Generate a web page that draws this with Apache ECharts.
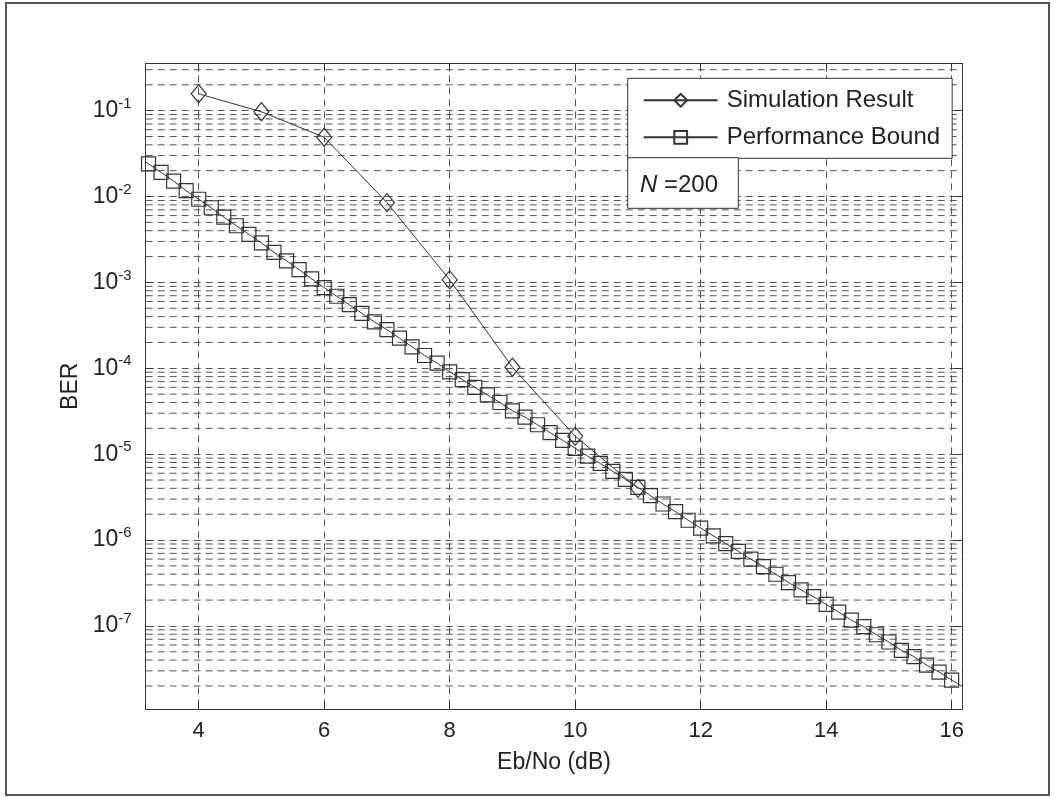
<!DOCTYPE html>
<html>
<head>
<meta charset="utf-8">
<script src="https://cdn.jsdelivr.net/npm/echarts/dist/echarts.min.js"></script>
<style>
html,body{margin:0;padding:0;background:#fff;}
#chart{width:1054px;height:797px;}
</style>
</head>
<body>
<div id="chart"></div>
<script>
// ---- data ----
const simX = [4, 5, 6, 7, 8, 9, 10, 11];
const simBER = [0.157, 0.097, 0.049, 8.5e-3, 1.07e-3, 1.03e-4, 1.62e-5, 4.0e-6];

const boundX = [3.155,
  3.2, 3.4, 3.6, 3.8, 4.0, 4.2, 4.4, 4.6, 4.8, 5.0,
  5.2, 5.4, 5.6, 5.8, 6.0, 6.2, 6.4, 6.6, 6.8, 7.0,
  7.2, 7.4, 7.6, 7.8, 8.0, 8.2, 8.4, 8.6, 8.8, 9.0,
  9.2, 9.4, 9.6, 9.8, 10.0, 10.2, 10.4, 10.6, 10.8, 11.0,
  11.2, 11.4, 11.6, 11.8, 12.0, 12.2, 12.4, 12.6, 12.8, 13.0,
  13.2, 13.4, 13.6, 13.8, 14.0, 14.2, 14.4, 14.6, 14.8, 15.0,
  15.2, 15.4, 15.6, 15.8, 16.0,
  16.17];
const boundBER = [2.53e-2,
  2.40e-2, 1.91e-2, 1.51e-2, 1.17e-2, 9.3e-3, 7.4e-3, 5.75e-3, 4.57e-3, 3.63e-3, 2.88e-3,
  2.24e-3, 1.78e-3, 1.41e-3, 1.10e-3, 8.7e-4, 6.9e-4, 5.5e-4, 4.37e-4, 3.47e-4, 2.82e-4,
  2.24e-4, 1.78e-4, 1.41e-4, 1.15e-4, 9.1e-5, 7.4e-5, 6.0e-5, 4.9e-5, 4.0e-5, 3.2e-5,
  2.7e-5, 2.2e-5, 1.78e-5, 1.45e-5, 1.17e-5, 9.5e-6, 7.8e-6, 6.3e-6, 5.1e-6, 4.1e-6,
  3.3e-6, 2.63e-6, 2.14e-6, 1.70e-6, 1.38e-6, 1.12e-6, 9.1e-7, 7.4e-7, 6.0e-7, 4.9e-7,
  4.0e-7, 3.2e-7, 2.63e-7, 2.19e-7, 1.78e-7, 1.45e-7, 1.17e-7, 9.8e-8, 7.9e-8, 6.5e-8,
  5.2e-8, 4.4e-8, 3.5e-8, 2.9e-8, 2.34e-8,
  1.97e-8];
// marker-less end points of the bound line (line reaches the axis edges)
const boundNoMarker = [3.155, 16.17];

const xTickValues = [4, 6, 8, 10, 12, 14, 16];
const xMin = 3.155, xMax = 16.17;
const yMin = 1.07e-8, yMax = 0.356;
const seriesNames = ['Simulation Result', 'Performance Bound'];
const annotation = 'N';
const annotationRest = ' =200';
const xName = 'Eb/No (dB)';
const yName = 'BER';

// ---- build ----
const FONT = '"Liberation Sans", Arial, Helvetica, sans-serif';
const INK = '#333';
const GRID = '#555';

const simData = simX.map((x, i) => [x, simBER[i]]);
const boundData = boundX.map((x, i) => {
  const item = { value: [x, boundBER[i]] };
  if (boundNoMarker.indexOf(x) >= 0) item.symbol = 'none';
  return item;
});

// minor grid lines at k*10^e, drawn as dashed line series across the x range
const minorValues = [];
for (let e = -9; e <= 0; e++) {
  for (let k = 2; k <= 9; k++) {
    const v = k * Math.pow(10, e);
    if (v > yMin && v < yMax) minorValues.push(v);
  }
}
const minorSeries = minorValues.map(v => ({
  type: 'line', silent: true, symbol: 'none',
  xAxisIndex: 0, yAxisIndex: 0,
  data: [[xMin, v], [xMax, v]],
  lineStyle: { color: GRID, type: [7, 5], width: 1 },
  emphasis: { disabled: true },
  tooltip: { show: false },
  z: 1
}));

function yLabel(v) {
  const lg = Math.log10(v);
  const e = Math.round(lg);
  if (Math.abs(lg - e) > 1e-6) return '';
  return '{b|10}{s|' + e + '}';
}
function xLabel(v) {
  return xTickValues.indexOf(Math.round(v * 1000) / 1000) >= 0 ? String(Math.round(v)) : '';
}

const chart = echarts.init(document.getElementById('chart'), null, { renderer: 'canvas' });
const option = {
  animation: false,
  backgroundColor: '#fff',
  textStyle: { fontFamily: FONT },
  grid: { left: 145.7, right: 91.7, top: 63.3, bottom: 87.7, containLabel: false },
  legend: {
    left: 627.7, top: 78.3,
    orient: 'vertical',
    backgroundColor: '#fff',
    borderColor: INK, borderWidth: 1, borderRadius: 0,
    padding: [10, 12, 9, 15],
    itemWidth: 74, itemHeight: 16, itemGap: 13,
    textStyle: { fontSize: 24, color: '#222', fontFamily: FONT, lineHeight: 24, padding: [0, 0, 0, 4] },
    data: seriesNames,
    z: 20
  },
  xAxis: [{
    type: 'value', min: xMin, max: xMax, splitNumber: 6,
    name: xName, nameLocation: 'middle', nameGap: 42,
    nameTextStyle: { fontSize: 23, color: '#222', fontFamily: FONT },
    axisLine: { show: true, onZero: false, lineStyle: { color: INK, width: 1 } },
    axisTick: { show: true, inside: true, length: 8, lineStyle: { color: INK } },
    axisLabel: { formatter: xLabel, fontSize: 22, color: '#222', margin: 11, fontFamily: FONT, showMinLabel: false, showMaxLabel: false },
    splitLine: { show: true, lineStyle: { color: GRID, type: [7, 5], width: 1 } }
  }, {
    type: 'value', min: xMin, max: xMax, splitNumber: 6, position: 'top',
    axisLine: { show: true, onZero: false, lineStyle: { color: INK, width: 1 } },
    axisTick: { show: true, inside: true, length: 8, lineStyle: { color: INK } },
    axisLabel: { show: false },
    splitLine: { show: false }
  }],
  yAxis: [{
    type: 'log', logBase: 10, min: yMin, max: yMax, splitNumber: 8,
    name: yName, nameLocation: 'middle', nameGap: 62, nameRotate: 90,
    nameTextStyle: { fontSize: 23, color: '#222', fontFamily: FONT },
    axisLine: { show: true, onZero: false, lineStyle: { color: INK, width: 1 } },
    axisTick: { show: true, inside: true, length: 8, lineStyle: { color: INK } },
    axisLabel: {
      formatter: yLabel, margin: 14, color: '#222', fontFamily: FONT,
      showMinLabel: false, showMaxLabel: false,
      rich: {
        b: { fontSize: 23, color: '#222', fontFamily: FONT },
        s: { fontSize: 15, color: '#222', fontFamily: FONT, padding: [0, 0, 14, 0] }
      }
    },
    splitLine: { show: true, lineStyle: { color: GRID, type: [7, 5], width: 1 } }
  }, {
    type: 'log', logBase: 10, min: yMin, max: yMax, splitNumber: 8, position: 'right',
    axisLine: { show: true, onZero: false, lineStyle: { color: INK, width: 1 } },
    axisTick: { show: true, inside: true, length: 8, lineStyle: { color: INK } },
    axisLabel: { show: false },
    splitLine: { show: false }
  }],
  series: minorSeries.concat([{
    name: seriesNames[1],
    type: 'line',
    xAxisIndex: 0, yAxisIndex: 0,
    data: boundData,
    symbol: 'rect', symbolSize: 14,
    itemStyle: { color: 'rgba(0,0,0,0)', borderColor: INK, borderWidth: 1.2 },
    lineStyle: { color: INK, width: 1 },
    emphasis: { disabled: true },
    z: 3
  }, {
    name: seriesNames[0],
    type: 'line',
    xAxisIndex: 0, yAxisIndex: 0,
    data: simData,
    symbol: 'diamond', symbolSize: [15, 18],
    itemStyle: { color: 'rgba(0,0,0,0)', borderColor: INK, borderWidth: 1.2 },
    lineStyle: { color: INK, width: 1 },
    emphasis: { disabled: true },
    z: 4
  }]),
  graphic: [{
    type: 'rect', z: 40, silent: true,
    shape: { x: 627.7, y: 157.7, width: 110.6, height: 50.6 },
    style: { fill: '#fff', stroke: INK, lineWidth: 1 }
  }, {
    type: 'text', z: 41, silent: true, x: 640, y: 185,
    style: {
      text: '{i|' + annotation + '}{r|' + annotationRest + '}',
      verticalAlign: 'middle', fill: '#222',
      rich: {
        i: { fontSize: 24, fontStyle: 'italic', fontFamily: FONT, fill: '#222' },
        r: { fontSize: 24, fontFamily: FONT, fill: '#222' }
      }
    }
  }, {
    type: 'rect', z: 40, silent: true,
    shape: { x: 6, y: 3, width: 1043, height: 792 },
    style: { fill: 'none', stroke: '#555', lineWidth: 2 }
  }]
};
chart.setOption(option);
</script>
</body>
</html>
